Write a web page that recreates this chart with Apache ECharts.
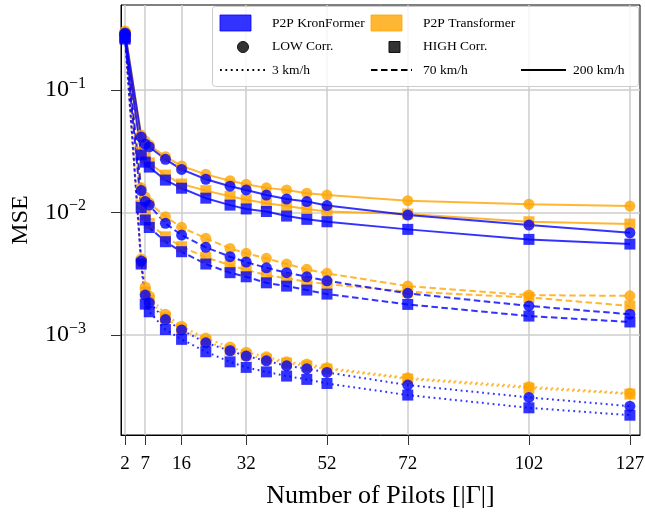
<!DOCTYPE html>
<html>
<head>
<meta charset="utf-8">
<script src="https://cdn.jsdelivr.net/npm/echarts@6/dist/echarts.min.js"></script>
<style>html,body{margin:0;padding:0;background:#fff}#chart{width:645px;height:514px}</style>
</head>
<body>
<div id="chart"></div>
<script>
var pilots = [2, 6, 7, 8, 12, 16, 22, 28, 32, 37, 42, 47, 52, 72, 102, 127];
var xTicks = [2, 7, 16, 32, 52, 72, 102, 127];
var yTicks = [0.001, 0.01, 0.1];

// P2P KronFormer
var kronLow200 = [0.292, 0.0413, 0.0362, 0.0343, 0.0272, 0.0225, 0.0187, 0.0164, 0.0153, 0.0139, 0.0129, 0.0123, 0.0114, 0.00954, 0.00791, 0.00684];
var kronHigh200 = [0.271, 0.0295, 0.0258, 0.0235, 0.0184, 0.0158, 0.0131, 0.0115, 0.0107, 0.0102, 0.00936, 0.0088, 0.00841, 0.00729, 0.00604, 0.00553];
var kronLow70 = [0.286, 0.0151, 0.0123, 0.0115, 0.00816, 0.00655, 0.0052, 0.00436, 0.00394, 0.00354, 0.00323, 0.00299, 0.00277, 0.00219, 0.00173, 0.00148];
var kronHigh70 = [0.266, 0.011, 0.00869, 0.00755, 0.00578, 0.00479, 0.0038, 0.00323, 0.00299, 0.00267, 0.00251, 0.00233, 0.00216, 0.00178, 0.00143, 0.00128];
var kronLow3 = [0.281, 0.00402, 0.00212, 0.00184, 0.00134, 0.0011, 0.000865, 0.000745, 0.000674, 0.000617, 0.000561, 0.000531, 0.000496, 0.000391, 0.00031, 0.000263];
var kronHigh3 = [0.26, 0.0038, 0.00179, 0.00155, 0.00111, 0.000923, 0.000731, 0.000605, 0.000545, 0.000501, 0.000463, 0.000435, 0.000403, 0.000324, 0.000255, 0.000222];

// P2P Transformer
var transLow200 = [0.303, 0.0429, 0.0383, 0.0356, 0.0286, 0.024, 0.0205, 0.0182, 0.017, 0.0159, 0.0153, 0.0144, 0.0139, 0.0125, 0.0117, 0.0113];
var transHigh200 = [0.281, 0.0312, 0.0279, 0.0254, 0.0202, 0.0171, 0.0151, 0.0136, 0.0127, 0.0119, 0.0113, 0.0107, 0.0102, 0.00973, 0.00841, 0.00805];
var transLow70 = [0.292, 0.0159, 0.0134, 0.012, 0.00925, 0.00757, 0.00616, 0.0051, 0.00465, 0.00423, 0.0038, 0.00344, 0.00319, 0.00251, 0.00212, 0.00209];
var transHigh70 = [0.276, 0.0115, 0.00954, 0.00816, 0.00634, 0.00526, 0.00431, 0.00373, 0.0034, 0.00309, 0.0029, 0.00272, 0.00261, 0.00226, 0.00203, 0.00173];
var transLow3 = [0.286, 0.00417, 0.00247, 0.00208, 0.00148, 0.00118, 0.000946, 0.000798, 0.000726, 0.000665, 0.000605, 0.00058, 0.000541, 0.000448, 0.000379, 0.000336];
var transHigh3 = [0.276, 0.00394, 0.00224, 0.00193, 0.00138, 0.00112, 0.000893, 0.000755, 0.000687, 0.000637, 0.000591, 0.000558, 0.000528, 0.000438, 0.000369, 0.00033];

var BLUE = '#0000ff';
var ORANGE = '#ffa500';
var FONT = '"Liberation Serif", "DejaVu Serif", serif';
var DOTS = [1.8, 3.6];
var DASH = [6.5, 3.5];

function mk(name, color, vals, symbol, dash) {
    return {
        name: name,
        type: 'line',
        data: pilots.map(function (p, i) { return [p, vals[i]]; }),
        symbol: symbol,
        symbolSize: 11,
        itemStyle: { color: color, opacity: 0.8 },
        lineStyle: { color: color, width: 2, opacity: 0.8, type: dash },
        emphasis: { disabled: true },
        animation: false
    };
}

var series = [
    mk('T low 3', ORANGE, transLow3, 'circle', DOTS),
    mk('T high 3', ORANGE, transHigh3, 'rect', DOTS),
    mk('T low 70', ORANGE, transLow70, 'circle', DASH),
    mk('T high 70', ORANGE, transHigh70, 'rect', DASH),
    mk('T low 200', ORANGE, transLow200, 'circle', 'solid'),
    mk('T high 200', ORANGE, transHigh200, 'rect', 'solid'),
    mk('K low 3', BLUE, kronLow3, 'circle', DOTS),
    mk('K high 3', BLUE, kronHigh3, 'rect', DOTS),
    mk('K low 70', BLUE, kronLow70, 'circle', DASH),
    mk('K high 70', BLUE, kronHigh70, 'rect', DASH),
    mk('K low 200', BLUE, kronLow200, 'circle', 'solid'),
    mk('K high 200', BLUE, kronHigh200, 'rect', 'solid')
];

function txt(x, y, s) {
    return { type: 'text', x: x, y: y, z: 101,
        style: { text: s, fill: '#000', font: '13.5px ' + FONT, verticalAlign: 'middle' } };
}

var legendBox = [
    { type: 'rect', z: 100, shape: { x: 212.5, y: 6.5, width: 426, height: 80, r: 3 },
      style: { fill: 'rgba(255,255,255,0.8)', stroke: '#cccccc', lineWidth: 1 } },
    { type: 'rect', z: 101, shape: { x: 220, y: 15, width: 31, height: 16 },
      style: { fill: BLUE, opacity: 0.8, stroke: BLUE } },
    txt(272, 23, 'P2P KronFormer'),
    { type: 'rect', z: 101, shape: { x: 371, y: 15, width: 31, height: 16 },
      style: { fill: ORANGE, opacity: 0.8, stroke: ORANGE } },
    txt(423, 23, 'P2P Transformer'),
    { type: 'circle', z: 101, shape: { cx: 243, cy: 47, r: 5.5 },
      style: { fill: '#333333', stroke: '#111111', lineWidth: 1 } },
    txt(272, 46, 'LOW Corr.'),
    { type: 'rect', z: 101, shape: { x: 389, y: 41.5, width: 11, height: 11 },
      style: { fill: '#333333', stroke: '#111111', lineWidth: 1 } },
    txt(423, 46, 'HIGH Corr.'),
    { type: 'line', z: 101, shape: { x1: 220, y1: 70, x2: 266, y2: 70 },
      style: { stroke: '#000', lineWidth: 1.8, lineDash: DOTS } },
    txt(272, 70, '3 km/h'),
    { type: 'line', z: 101, shape: { x1: 371, y1: 70, x2: 412, y2: 70 },
      style: { stroke: '#000', lineWidth: 1.8, lineDash: DASH } },
    txt(423, 70, '70 km/h'),
    { type: 'line', z: 101, shape: { x1: 521, y1: 70, x2: 566, y2: 70 },
      style: { stroke: '#000', lineWidth: 1.8 } },
    txt(573, 70, '200 km/h')
];

var chart = echarts.init(document.getElementById('chart'), null, { renderer: 'canvas' });
chart.setOption({
    animation: false,
    backgroundColor: '#ffffff',
    grid: { left: 121, top: 5, right: 5, bottom: 79, show: true, borderColor: '#000', borderWidth: 1,
            containLabel: false, outerBoundsMode: 'none' },
    xAxis: {
        type: 'value',
        min: 1,
        max: 129.5,
        name: 'Number of Pilots [|\u0393|]',
        nameLocation: 'middle',
        nameGap: 48,
        nameTextStyle: { fontFamily: FONT, fontSize: 26, color: '#000' },
        axisLine: { show: true, lineStyle: { color: '#000', width: 1 } },
        axisTick: { show: true, customValues: xTicks, length: 10, lineStyle: { color: '#333', width: 1 } },
        axisLabel: { customValues: xTicks, margin: 20, fontFamily: FONT, fontSize: 19, color: '#000' },
        splitLine: { show: true, lineStyle: { color: '#cccccc', width: 1.5 } }
    },
    yAxis: {
        type: 'log',
        logBase: 10,
        min: 0.000153,
        max: 0.494,
        name: 'MSE',
        nameLocation: 'middle',
        nameGap: 88,
        nameTextStyle: { fontFamily: FONT, fontSize: 24, color: '#000' },
        axisLine: { show: true, lineStyle: { color: '#000', width: 1 } },
        axisTick: { show: true, customValues: yTicks, length: 10, lineStyle: { color: '#333', width: 1 } },
        minorTick: { show: false },
        axisLabel: {
            customValues: yTicks,
            margin: 35,
            formatter: function (v) {
                var e = Math.round(Math.log10(v));
                return '{b|10}{s|\u2212' + (-e) + '}';
            },
            rich: {
                b: { fontFamily: FONT, fontSize: 24, color: '#000' },
                s: { fontFamily: FONT, fontSize: 16, color: '#000', padding: [0, 0, 13, 0] }
            }
        },
        splitLine: { show: true, lineStyle: { color: '#cccccc', width: 1.5 } }
    },
    graphic: legendBox,
    series: series
});
</script>
</body>
</html>
